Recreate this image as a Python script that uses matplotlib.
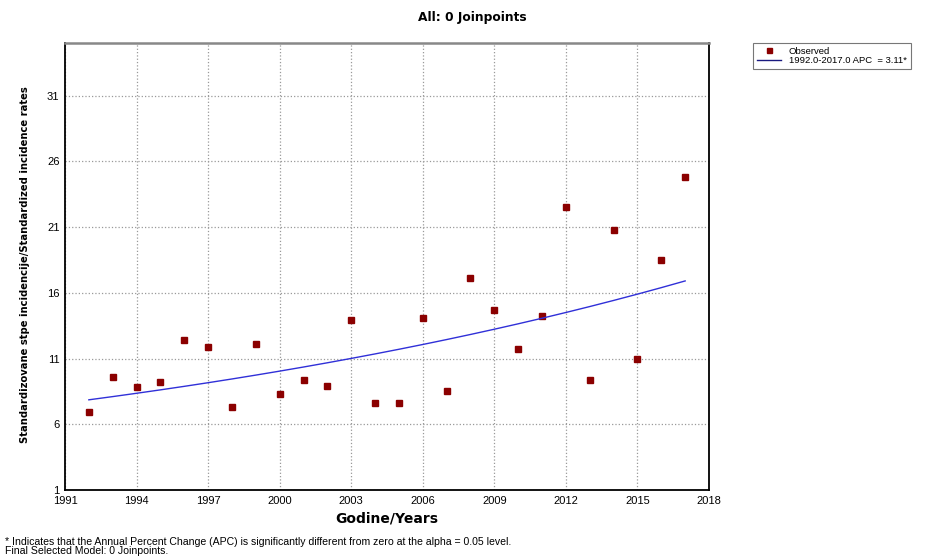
import matplotlib
matplotlib.use("Agg")
import matplotlib.pyplot as plt
import numpy as np

years = [1992, 1993, 1994, 1995, 1996, 1997, 1998, 1999, 2000, 2001, 2002, 2003, 2004,
         2005, 2006, 2007, 2008, 2009, 2010, 2011, 2012, 2013, 2014, 2015, 2016, 2017]
observed = [6.9, 9.6, 8.8, 9.2, 12.4, 11.9, 7.3, 12.1, 8.3, 9.4, 8.9, 13.9, 7.6,
            7.6, 14.1, 8.5, 17.1, 14.7, 11.7, 14.2, 22.5, 9.4, 20.8, 11.0, 18.5, 24.8]

# fitted joinpoint model (0 joinpoints): value at 1992 and annual percent change
fit_start = 7.86
apc = 3.11

xticks = list(range(1991, 2019, 3))
yticks = list(range(1, 32, 5))

plt.rcParams["font.family"] = ["Liberation Sans", "DejaVu Sans"]

fig = plt.figure(figsize=(9.27, 5.57), dpi=100)
ax = fig.add_axes([65 / 927, 67 / 557, 644 / 927, 447 / 557])

fit_years = np.array(years, dtype=float)
fit_vals = fit_start * (1 + apc / 100) ** (fit_years - years[0])

ax.plot(years, observed, "s", color="#8b0000", markersize=4.5, label="Observed")
ax.plot(fit_years, fit_vals, color="#3030d8", linewidth=1, label="1992.0-2017.0 APC  = 3.11*")

ax.set_xlim(1991, 2018)
ax.set_ylim(1, 35)
ax.set_xticks(xticks)
ax.set_yticks(yticks)
ax.tick_params(length=0, labelsize=8, pad=4)
ax.grid(True, linestyle=":", color="#999999", linewidth=0.9)
for s in ["left", "right", "bottom"]:
    ax.spines[s].set_linewidth(1.3)
ax.spines["top"].set_color("#888888")
ax.spines["top"].set_linewidth(1.8)

ax.set_xlabel("Godine/Years", fontsize=10, fontweight="bold", family="DejaVu Sans")
ax.xaxis.set_label_coords(0.5, -22 / 447)
ax.set_ylabel("Standardizovane stpe incidencije/Standardized incidence rates", fontsize=7.2,
              fontweight="bold", family="DejaVu Sans")
ax.yaxis.set_label_coords(-35 / 644, 0.505)

fig.text(472 / 927, 1 - 18 / 557, "All: 0 Joinpoints", ha="center", va="center",
         fontsize=8.8, fontweight="bold", family="DejaVu Sans")

leg = ax.legend(loc="upper left", bbox_to_anchor=(753 / 927, 1 - 43 / 557),
                bbox_transform=fig.transFigure, fontsize=6.8, frameon=True, fancybox=False,
                edgecolor="#555555", borderpad=0.4, labelspacing=0.05, handlelength=2.6,
                handletextpad=0.8, borderaxespad=0, markerscale=0.8)
leg.get_frame().set_linewidth(0.8)
leg.get_lines()[1].set_color("#1a1a80")

fig.text(5 / 927, 1 - 542 / 557,
         "* Indicates that the Annual Percent Change (APC) is significantly different from zero at the alpha = 0.05 level.",
         fontsize=7.6, va="center")
fig.text(5 / 927, 1 - 551 / 557, "Final Selected Model: 0 Joinpoints.", fontsize=7.6, va="center")

fig.savefig("out.png", dpi=100)
